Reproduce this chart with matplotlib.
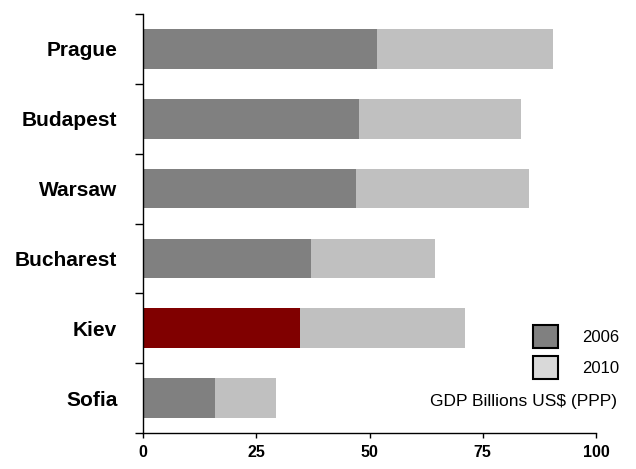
import matplotlib.pyplot as plt
from matplotlib.patches import Patch
import numpy as np

plt.rcParams['font.family'] = ['Liberation Sans', 'DejaVu Sans']

# GDP, billions US$ (PPP)
cities = ['Prague', 'Budapest', 'Warsaw', 'Bucharest', 'Kiev', 'Sofia']
gdp_2006 = [51.7, 47.7, 47.0, 37.1, 34.7, 15.9]
gdp_2010 = [90.5, 83.4, 85.2, 64.5, 71.1, 29.4]
highlight = 'Kiev'

dark = '#808080'
light = '#c0c0c0'
red = '#800000'

fig = plt.figure(figsize=(6.36, 4.69), dpi=100)
ax = fig.add_axes([143 / 636, 36 / 469, 453 / 636, 419 / 469])

y = np.arange(len(cities))
base_colors = [red if c == highlight else dark for c in cities]
growth = np.array(gdp_2010) - np.array(gdp_2006)

ax.barh(y, gdp_2006, height=0.57, color=base_colors, linewidth=0)
ax.barh(y, growth, left=gdp_2006, height=0.57, color=light, linewidth=0)

ax.set_xlim(0, 100)
ax.set_ylim(len(cities) - 0.5, -0.5)
ax.set_xticks([0, 25, 50, 75, 100])
ax.set_xticklabels(['0', '25', '50', '75', '100'], fontsize=11.5, fontweight='bold')
ax.tick_params(axis='x', direction='out', length=3.6, width=1, pad=5)

ax.set_yticks(y)
ax.set_yticklabels(cities, fontsize=15, fontweight='bold')
ax.tick_params(axis='y', which='major', length=0, pad=18.5)
ax.set_yticks(np.arange(len(cities) + 1) - 0.5, minor=True)
ax.tick_params(axis='y', which='minor', direction='out', length=6, width=1)

ax.spines['top'].set_visible(False)
ax.spines['right'].set_visible(False)
for s in ['left', 'bottom']:
    ax.spines[s].set_linewidth(1)
    ax.spines[s].set_color('black')

# legend squares, then the unit note under them
handles = [Patch(facecolor='#808080', edgecolor='black', linewidth=1.5, label='2006'),
           Patch(facecolor='#d9d9d9', edgecolor='black', linewidth=1.5, label='2010')]
fig.legend(handles=handles, loc='upper left', bbox_to_anchor=(533 / 636, 1 - 325 / 469),
           frameon=False, fontsize=12, handlelength=1.5, handleheight=1.75,
           handletextpad=1.44, labelspacing=0.5, borderpad=0, borderaxespad=0)
fig.text(617 / 636, 1 - 401 / 469, 'GDP Billions US$ (PPP)', ha='right', va='center',
         fontsize=12.5)

plt.savefig('out.png', dpi=100)
